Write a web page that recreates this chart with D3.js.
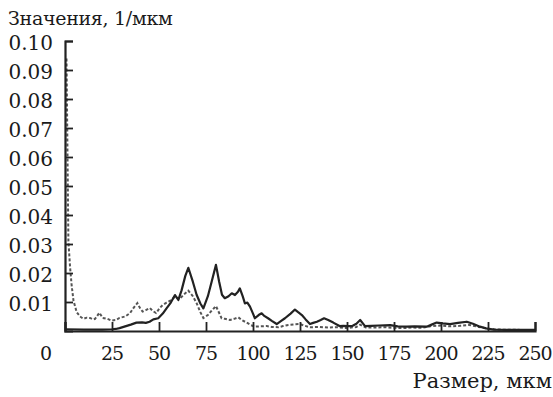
<!DOCTYPE html>
<html>
<head>
<meta charset="utf-8">
<script src="https://cdn.jsdelivr.net/npm/d3@7"></script>
<style>
  body { margin: 0; background: #fff; }
  .serif { font-family: "DejaVu Serif", serif; }
</style>
</head>
<body>
<div id="chart"></div>
<script>
// size, um (x) and value, 1/um (y)
var sizeSolid = [0, 10, 20, 25, 27, 29, 32, 35, 38, 41, 43, 45, 47, 49.6, 52, 54, 56, 58.5, 60.3, 62, 64, 65.6,
  68, 70, 72, 73.6, 76, 78, 80.3, 82, 83.5, 85, 87, 88.7, 90.4, 92, 93, 94.5, 95.7, 97, 98.4, 100, 101,
  103, 104.6, 106, 108, 110, 112.6, 115, 117, 120, 122.3, 124, 126, 128, 130.3, 132, 134, 136, 137.8,
  140, 142.7, 146, 148, 150.7, 153, 155, 157, 159.6, 163, 167, 173, 177, 181.7, 186, 192.4, 195, 197.7,
  201, 204.8, 209, 213.7, 217, 220.7, 224, 228, 235, 250];
var valSolid = [0.0006, 0.0005, 0.0005, 0.0006, 0.0007, 0.001, 0.0016, 0.0022, 0.0029, 0.003, 0.0028, 0.0032,
  0.004, 0.0044, 0.006, 0.0078, 0.0095, 0.0124, 0.0107, 0.014, 0.019, 0.0218,
  0.017, 0.0125, 0.0095, 0.0078, 0.012, 0.017, 0.0228, 0.017, 0.0125, 0.0113, 0.012, 0.013, 0.0124, 0.0135,
  0.0147, 0.012, 0.0095, 0.0098, 0.0084, 0.006, 0.0044,
  0.0055, 0.0061, 0.0052, 0.0044, 0.0035, 0.0024, 0.0035, 0.0044, 0.006, 0.0074, 0.0065, 0.0055, 0.004,
  0.0024, 0.0028, 0.0032, 0.0038, 0.0044,
  0.0038, 0.0029, 0.0017, 0.0018, 0.0017, 0.0018, 0.0025, 0.0038, 0.0017, 0.0018, 0.0019, 0.002, 0.0016,
  0.0015, 0.0016, 0.0015, 0.0022, 0.0029,
  0.0026, 0.0024, 0.0028, 0.0032, 0.0025, 0.0015, 0.0009, 0.0005, 0.0004, 0.0004];

var sizeDotted = [0.8, 1.8, 2.7, 3.5, 4.5, 6.2, 8, 9.8, 11.5, 13.3, 15, 16, 18.3, 20, 22.5, 24.8, 27, 29, 32,
  34.6, 36.5, 38.5, 40, 41.3, 43, 45.2, 46.5, 48.4, 50.5, 52, 54, 56, 58.5, 61, 63, 65.6, 68, 70, 72, 73.6,
  76, 78, 80.3, 83.3, 85, 87.8, 90, 92.2, 94, 96.6, 99, 101, 104, 107.3, 110, 113.5, 116, 118.8, 122, 125,
  127.5, 130.3, 135, 140, 145, 150, 155, 157, 160, 165, 170, 175, 180, 185, 190, 195, 200, 205, 210, 215,
  220, 225, 230, 240, 250];
var valDotted = [0.094, 0.031, 0.022, 0.016, 0.0105, 0.0065, 0.005, 0.0042, 0.0046, 0.0045, 0.004, 0.0042,
  0.0063, 0.0045, 0.0042, 0.0036, 0.0038, 0.0045, 0.005,
  0.0062, 0.008, 0.0096, 0.0078, 0.0067, 0.0072, 0.0079, 0.007, 0.0062, 0.008, 0.009, 0.0098, 0.0105,
  0.0118, 0.011, 0.0125, 0.0139, 0.012, 0.0096, 0.0065, 0.0045,
  0.0055, 0.007, 0.0086, 0.0044, 0.0042, 0.0038, 0.0042, 0.0047, 0.0038, 0.0029, 0.002, 0.0015, 0.0016,
  0.0017, 0.0014, 0.0013, 0.0017, 0.0021, 0.0023, 0.0024,
  0.0018, 0.0013, 0.0014, 0.0012, 0.0013, 0.001, 0.0014, 0.0022, 0.0012, 0.0012, 0.0013, 0.0011, 0.001,
  0.0012, 0.0011, 0.0017, 0.0019, 0.0016, 0.0018, 0.0021,
  0.0014, 0.0008, 0.0005, 0.0004, 0.0003];

var xTicks = [0, 25, 50, 75, 100, 125, 150, 175, 200, 225, 250];
var yTicks = [0.01, 0.02, 0.03, 0.04, 0.05, 0.06, 0.07, 0.08, 0.09, 0.10];

var width = 553, height = 397;
var margin = {top: 41, right: 18, bottom: 66, left: 65};

var svg = d3.select("#chart").append("svg")
  .attr("width", width)
  .attr("height", height);

var x = d3.scaleLinear().domain([0, 250]).range([margin.left, width - margin.right]);
var y = d3.scaleLinear().domain([0, 0.10]).range([height - margin.bottom, margin.top]);

// lines first, axes drawn on top
var line = d3.line()
  .x(function(d) { return x(d[0]); })
  .y(function(d) { return y(d[1]); });

svg.append("path")
  .datum(d3.zip(sizeDotted, valDotted))
  .attr("fill", "none")
  .attr("stroke", "#555")
  .attr("stroke-width", 2)
  .attr("stroke-dasharray", "3,2")
  .attr("d", line);

svg.append("path")
  .datum(d3.zip(sizeSolid, valSolid))
  .attr("fill", "none")
  .attr("stroke", "#222")
  .attr("stroke-width", 2.2)
  .attr("stroke-linejoin", "round")
  .attr("d", line);

var yAxis = svg.append("g")
  .attr("transform", "translate(" + margin.left + ",0)")
  .call(d3.axisLeft(y).tickValues(yTicks).tickFormat(d3.format(".2f"))
    .tickSizeInner(-8).tickSizeOuter(-8).tickPadding(12));

var xAxis = svg.append("g")
  .attr("transform", "translate(0," + (height - margin.bottom) + ")")
  .call(d3.axisBottom(x).tickValues(xTicks).tickFormat(d3.format("d"))
    .tickSizeInner(-9).tickSizeOuter(-9).tickPadding(16));

[yAxis, xAxis].forEach(function(a) {
  a.attr("font-family", null);
  a.select(".domain").attr("stroke", "#222").attr("stroke-width", 2.2);
  a.selectAll(".tick line").attr("stroke", "#222").attr("stroke-width", 1.8);
  a.selectAll(".tick text").attr("fill", "#1a1a1a").attr("class", "serif");
});
yAxis.attr("font-size", 20);
yAxis.selectAll(".tick text").attr("dy", "0.4em");
xAxis.attr("font-size", 19);
xAxis.selectAll(".tick text").attr("letter-spacing", -1).attr("dx", -0.5);
// the "0" label sits left of the axis corner
xAxis.selectAll(".tick text").filter(function(d) { return d === 0; }).attr("dx", -20);

svg.append("text")
  .attr("class", "serif")
  .attr("x", 8)
  .attr("y", 25)
  .attr("font-size", 19)
  .attr("letter-spacing", -0.3)
  .attr("fill", "#1a1a1a")
  .text("Значения, 1/мкм");

svg.append("text")
  .attr("class", "serif")
  .attr("x", 552)
  .attr("y", 388)
  .attr("text-anchor", "end")
  .attr("font-size", 21)
  .attr("fill", "#1a1a1a")
  .text("Размер, мкм");
</script>
</body>
</html>
